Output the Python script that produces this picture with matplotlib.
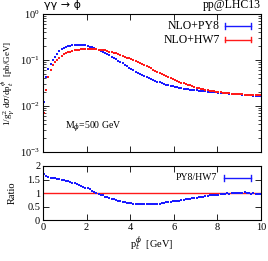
import numpy as np
import matplotlib
matplotlib.use('Agg')
import matplotlib.pyplot as plt
from matplotlib.ticker import LogLocator, MultipleLocator, NullFormatter

plt.rcParams['font.family'] = ['Liberation Serif', 'DejaVu Serif']
plt.rcParams['mathtext.fontset'] = 'dejavuserif'

# bin centres, 0.1 GeV bins
pt = np.arange(0.05, 10.0, 0.1)

py8 = [0.012, 0.042, 0.064, 0.082, 0.099, 0.118, 0.137, 0.154, 0.170, 0.182,
       0.192, 0.200, 0.206, 0.211, 0.214, 0.216, 0.216, 0.214, 0.211, 0.207,
       0.202, 0.196, 0.189, 0.182, 0.174, 0.166, 0.158, 0.150, 0.142, 0.134,
       0.126, 0.118, 0.110, 0.103, 0.096, 0.090, 0.084, 0.078, 0.073, 0.068,
       0.064, 0.060, 0.056, 0.053, 0.050, 0.047, 0.045, 0.042, 0.040, 0.038,
       0.0365, 0.035, 0.0337, 0.0325, 0.0313, 0.0302, 0.0292, 0.0283, 0.0275, 0.0268,
       0.0261, 0.0255, 0.0249, 0.0244, 0.0239, 0.0235, 0.0231, 0.0227, 0.0224, 0.0221,
       0.0218, 0.0215, 0.0212, 0.0210, 0.0207, 0.0205, 0.0203, 0.0201, 0.0199, 0.0197,
       0.0195, 0.0193, 0.0191, 0.0190, 0.0188, 0.0186, 0.0185, 0.0183, 0.0181, 0.0180,
       0.0178, 0.0177, 0.0175, 0.0174, 0.0172, 0.0170, 0.0169, 0.0167, 0.0165, 0.0163]

hw7 = [0.007, 0.022, 0.042, 0.060, 0.076, 0.090, 0.102, 0.113, 0.123, 0.132,
       0.140, 0.147, 0.153, 0.158, 0.162, 0.165, 0.168, 0.170, 0.172, 0.173,
       0.174, 0.174, 0.174, 0.173, 0.171, 0.169, 0.167, 0.164, 0.161, 0.157,
       0.153, 0.149, 0.144, 0.139, 0.134, 0.128, 0.123, 0.118, 0.113, 0.108,
       0.103, 0.098, 0.094, 0.089, 0.085, 0.081, 0.077, 0.073, 0.069, 0.066,
       0.062, 0.059, 0.056, 0.053, 0.050, 0.048, 0.045, 0.043, 0.041, 0.039,
       0.037, 0.035, 0.034, 0.032, 0.031, 0.030, 0.029, 0.028, 0.027, 0.026,
       0.0252, 0.0245, 0.0238, 0.0232, 0.0226, 0.0221, 0.0216, 0.0212, 0.0208, 0.0204,
       0.0201, 0.0198, 0.0195, 0.0192, 0.0190, 0.0188, 0.0186, 0.0184, 0.0182, 0.0180,
       0.0179, 0.0178, 0.0177, 0.0176, 0.0175, 0.0174, 0.0173, 0.0172, 0.0171, 0.0170]

ratio = [1.72, 1.62, 1.58, 1.57, 1.56, 1.54, 1.53, 1.51, 1.49, 1.47,
         1.45, 1.43, 1.41, 1.38, 1.36, 1.34, 1.31, 1.27, 1.24, 1.20,
         1.17, 1.13, 1.09, 1.05, 1.01, 0.98, 0.94, 0.91, 0.87, 0.84,
         0.81, 0.78, 0.76, 0.73, 0.71, 0.69, 0.67, 0.66, 0.64, 0.63,
         0.62, 0.61, 0.60, 0.595, 0.59, 0.585, 0.58, 0.58, 0.58, 0.58,
         0.585, 0.59, 0.60, 0.61, 0.62, 0.635, 0.65, 0.66, 0.675, 0.69,
         0.70, 0.71, 0.72, 0.735, 0.75, 0.76, 0.775, 0.79, 0.80, 0.82,
         0.83, 0.84, 0.86, 0.87, 0.88, 0.89, 0.91, 0.92, 0.93, 0.93,
         0.94, 0.95, 0.96, 0.97, 1.01, 0.98, 1.00, 0.99, 1.00, 1.01,
         0.99, 1.00, 1.02, 0.99, 1.00, 0.98, 0.99, 0.97, 0.96, 0.95]

blue = '#1a1aff'
red = '#ff1a1a'
fs = 7.5    # ticks / axis labels
fs_txt = 8.5  # legend and header

fig = plt.figure(figsize=(2.68, 2.61), dpi=100)
ax = fig.add_axes([0.1604, 0.4176, 0.8134, 0.5287])
axr = fig.add_axes([0.1604, 0.157, 0.8134, 0.207])

# main panel
ax.plot(pt, py8, 's', color=blue, ms=1.8, mew=0)
ax.plot(pt, hw7, 's', color=red, ms=1.8, mew=0)
ax.set_yscale('log')
ax.set_xlim(0, 10)
ax.set_ylim(1e-3, 1)
ax.yaxis.set_major_locator(LogLocator(base=10, numticks=10))
ax.yaxis.set_minor_locator(LogLocator(base=10, subs=np.arange(2, 10), numticks=10))
ax.yaxis.set_minor_formatter(NullFormatter())
ax.xaxis.set_major_locator(MultipleLocator(2))
ax.set_xticklabels([])
ax.set_ylabel(r'1/g$^2_\gamma$ d$\sigma$/dp$_t^\phi$  [pb/GeV]', fontsize=6.5)
ax.yaxis.set_label_coords(-0.125, 0.5)

# header texts above the frame
fig.text(0.165, 0.981, 'γγ → ϕ', fontsize=fs_txt - 0.5, ha='left', va='center', family='DejaVu Sans')
fig.text(0.974, 0.981, 'pp@LHC13', fontsize=fs_txt, ha='right', va='center')
ax.text(0.1, 0.18, r'M$_\phi$=500 GeV', transform=ax.transAxes, fontsize=7, ha='left', va='center')

# legend drawn by hand, gnuplot style
for yy, name, c in [(0.915, 'NLO+PY8', blue), (0.815, 'NLO+HW7', red)]:
    ax.text(0.81, yy, name, transform=ax.transAxes, fontsize=fs_txt, ha='right', va='center')
    ax.plot([0.835, 0.955], [yy, yy], color=c, lw=1.0, transform=ax.transAxes)
    for xe in (0.835, 0.955):
        ax.plot([xe, xe], [yy - 0.02, yy + 0.02], color=c, lw=1.0, transform=ax.transAxes)

# ratio panel
axr.axhline(1.0, color=red, lw=1.0)
axr.plot(pt, ratio, 's', color=blue, ms=1.8, mew=0)
axr.set_xlim(0, 10)
axr.set_ylim(0, 2)
axr.xaxis.set_major_locator(MultipleLocator(2))
axr.set_yticks([0, 0.5, 1, 1.5, 2])
axr.set_yticklabels(['0', '0.5', '1', '1.5', '2'])
axr.set_ylabel('Ratio', fontsize=fs)
axr.yaxis.set_label_coords(-0.12, 0.5)
axr.set_xlabel(r'p$_t^\phi$  [GeV]', fontsize=fs, labelpad=2)
yy = 0.78
axr.text(0.8, yy, 'PY8/HW7', transform=axr.transAxes, fontsize=7, ha='right', va='center')
axr.plot([0.83, 0.955], [yy, yy], color=blue, lw=1.0, transform=axr.transAxes)
for xe in (0.83, 0.955):
    axr.plot([xe, xe], [yy - 0.05, yy + 0.05], color=blue, lw=1.0, transform=axr.transAxes)

for a in (ax, axr):
    a.tick_params(which='both', direction='in', top=True, right=True, labelsize=fs, pad=2)
    a.tick_params(which='major', length=4, width=0.6)
    a.tick_params(which='minor', length=2, width=0.5)
    for s in a.spines.values():
        s.set_linewidth(0.8)

fig.savefig('out.png', dpi=100)
